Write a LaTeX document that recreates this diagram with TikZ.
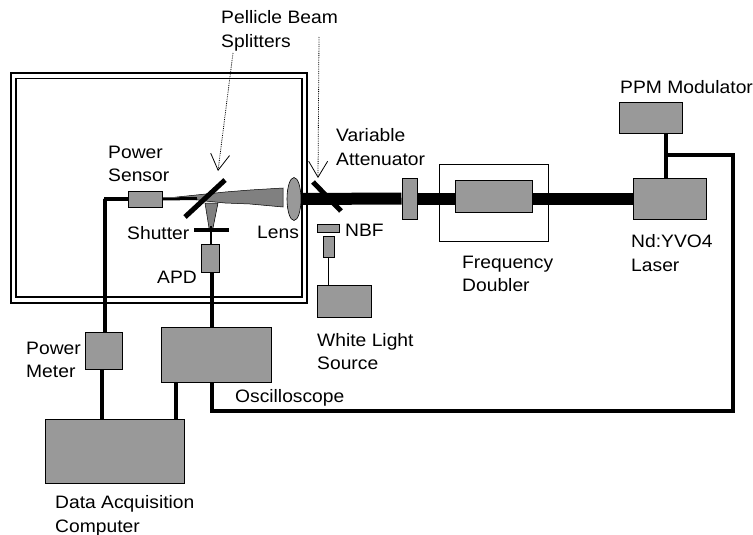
\documentclass[tikz,border=0pt]{standalone}
\usepackage{fontspec}
\setmainfont[FakeStretch=1.07]{Liberation Sans}
\usetikzlibrary{arrows.meta, shapes.geometric}
\definecolor{boxgray}{HTML}{999999}
\definecolor{beamgray}{HTML}{808080}

\begin{document}
\begin{tikzpicture}[x=1pt, y=-1pt, >={Straight Barb[length=16pt, width=19pt, line width=0.8pt]},
  box/.style={draw, fill=boxgray, line width=1pt, inner sep=0pt},
  wire/.style={line width=3.6pt},
  beam/.style={line width=12pt},
  mirror/.style={line width=5pt},
  pointer/.style={densely dotted, line width=0.8pt, ->},
  txt/.style={anchor=west, inner sep=0pt, align=left, font=\fontsize{18}{23.5}\selectfont}]
\useasboundingbox (0,0) rectangle (753,535);
% enclosure
\draw[line width=1.1pt] (11,73) rectangle (307,303);
\draw[line width=1.1pt] (16,78.5) rectangle (302,297);
% doubler housing
\node[draw, line width=0.9pt, minimum width=109pt, minimum height=77pt] (housing) at (493.5,202.5) {};
% instruments
\node[box, minimum width=34pt, minimum height=16pt] (sensor) at (145,199) {};
\node[box, minimum width=37pt, minimum height=37pt] (meter) at (103.5,350.5) {};
\node[box, minimum width=139pt, minimum height=64pt] (computer) at (114.5,451) {};
\node[box, minimum width=110pt, minimum height=55pt] (scope) at (216,354.5) {};
\node[box, minimum width=18pt, minimum height=28pt] (apd) at (210,258) {};
\node[box, minimum width=63pt, minimum height=30pt] (ppm) at (650.5,118) {};
\node[box, minimum width=73pt, minimum height=41pt] (laser) at (669.5,198.5) {};
\node[box, minimum width=15pt, minimum height=41pt] (atten) at (409.5,198.5) {};
\node[box, minimum width=77pt, minimum height=32pt] (crystal) at (493.5,196) {};
\node[box, minimum width=22pt, minimum height=8pt] (nbf) at (328,228) {};
\node[box, minimum width=11pt, minimum height=21pt] (lamp) at (328.5,246.5) {};
\node[box, minimum width=54pt, minimum height=32pt] (white) at (344,301) {};
\node[draw, fill=boxgray, ellipse, line width=0.6pt, inner sep=0pt, minimum width=14pt, minimum height=43pt] (lens) at (294,199) {};
% beam
\draw[beam] (lens.east) -- (atten.west);
\draw[beam] (atten.east) -- (atten.east -| crystal.west);
\draw[beam] (crystal.east |- laser.west) -- (laser.west);
% converging beams
\fill[beamgray, draw=black, line width=0.5pt] (283,188) -- (250,190) -- (225,192) -- (177,197) -- (205,201) -- (225,203) -- (250,204) -- (283,207) -- cycle;
\fill[beamgray, draw=black, line width=0.5pt] (205,203) -- (218,203) -- (213,228) -- (209,228) -- cycle;
\draw[line width=3pt] (sensor.east) -- (197,198.5);
\draw[line width=2pt] (211,226) -- (apd.north -| 211,0);
% optics
\draw[mirror] (225,180) -- (185,217);
\draw[mirror] (313,182) -- (341,211);
\draw[line width=4.5pt] (194,230) -- (229,230);
% wires
\coordinate (corner) at (104,199);
\draw[wire] (sensor.west) -- (corner) -- ([xshift=1.5pt]meter.north |- corner) -- ([xshift=1.5pt]meter.north);
\draw[wire] ([xshift=-1.5pt]meter.south) -- ([xshift=-1.5pt]meter.south |- computer.north);
\draw[wire] (apd.south -| 212,0) -- (scope.north -| 212,0);
\draw[wire] (scope.south -| 176,0) -- (computer.north -| 176,0);
\coordinate (turnA) at (212,411);
\coordinate (turnB) at (733,411);
\coordinate (turnC) at (733,155);
\coordinate (turnD) at (666,155);
\draw[wire] (scope.south -| turnA) -- (turnA) -- (turnB) -- (turnC) -- (turnD);
\draw[wire] (ppm.south -| turnD) -- (laser.north -| turnD);
\draw[line width=1.5pt] (lamp.south) -- (white.north -| lamp.south);
% pointers
\coordinate (tipA) at (218,171);
\coordinate (tipB) at (318,178);
\draw[pointer] (233,53) -- (tipA);
\draw[pointer] (319,37) -- (tipB);
% labels
\node[txt] (pellicle) at (221,31) {Pellicle Beam\\Splitters};
\node[txt] (sensortxt) at (108,164) {Power\\Sensor};
\node[txt] (shuttertxt) at (127,233) {Shutter};
\node[txt] (lenstxt) at (257,232) {Lens};
\node[txt] (apdtxt) at (157,277) {APD};
\node[txt] (attentxt) at (336,147) {Variable\\Attenuator};
\node[txt] (nbftxt) at (345,230) {NBF};
\node[txt] (doublertxt) at (462,274) {Frequency\\Doubler};
\node[txt] (whitetxt) at (317,351.5) {White Light\\Source};
\node[txt] (metertxt) at (26,360) {Power\\Meter};
\node[txt] (scopetxt) at (235,398) {Oscilloscope};
\node[txt] (computertxt) at (55,516) {Data Acquisition\\Computer};
\node[txt] (ppmtxt) at (620,87) {PPM Modulator};
\node[txt] (lasertxt) at (631,253) {Nd:YVO4\\Laser};
\end{tikzpicture}
\end{document}
